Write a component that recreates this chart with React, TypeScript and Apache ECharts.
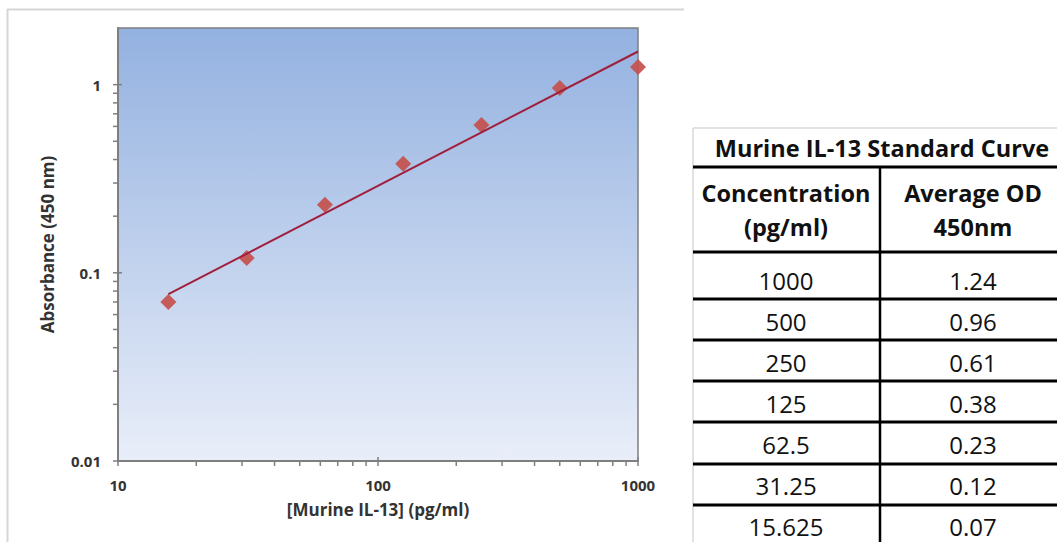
import React, { useEffect, useRef } from "react";
import * as echarts from "echarts";

// ---- data ----
const concentrations = [1000, 500, 250, 125, 62.5, 31.25, 15.625];
const averageOD = [1.24, 0.96, 0.61, 0.38, 0.23, 0.12, 0.07];
// power-law trendline end points (as drawn)
const trendLine = [
  [15.625, 0.077],
  [1000, 1.5],
];
const xMajorTicks = [10, 100, 1000];
const yMajorTicks = [0.01, 0.1, 1];
const xMinorTicks = [20, 30, 40, 50, 60, 70, 80, 90, 200, 300, 400, 500, 600, 700, 800, 900];
const yMinorTicks = [0.02, 0.03, 0.04, 0.05, 0.06, 0.07, 0.08, 0.09, 0.2, 0.3, 0.4, 0.5, 0.6, 0.7, 0.8, 0.9];
const tableTitle = "Murine IL-13 Standard Curve";
const headerLeft = ["Concentration", "(pg/ml)"];
const headerRight = ["Average OD", "450nm"];

const FONT = "'Open Sans', 'DejaVu Sans', sans-serif";

export default function App() {
  const ref = useRef<HTMLDivElement>(null);

  useEffect(() => {
    if (!ref.current) return;
    const chart = echarts.init(ref.current, undefined, { renderer: "svg" });

    const tickSeries = (values: number[], axis: "x" | "y", major: boolean) => ({
      type: "custom",
      silent: true,
      clip: false,
      z: 5,
      data: values.map((v) => (axis === "x" ? [v, 1] : [100, v])),
      renderItem: (params: any, api: any) => {
        const cs = params.coordSys;
        const pt = api.coord([api.value(0), api.value(1)]);
        const style = { stroke: "#7f7f7f", lineWidth: 1.5 };
        if (axis === "x") {
          const y = cs.y + cs.height;
          return {
            type: "line",
            shape: { x1: pt[0], y1: major ? y - 4 : y, x2: pt[0], y2: y + 5 },
            style,
          };
        }
        const x = cs.x;
        return {
          type: "line",
          shape: { x1: x - 5, y1: pt[1], x2: major ? x + 4 : x, y2: pt[1] },
          style,
        };
      },
    });

    // table graphics
    const tX = 693;
    const tR = 1057;
    const colSplit = 880;
    const leftC = 786;
    const rightC = 973;
    const rowCenters = [280, 321, 362, 403, 444, 485, 526];
    const rowLines = [252, 299, 340, 381, 422, 464, 505];
    const graphics: any[] = [];
    // chart outer border
    graphics.push({ type: "line", shape: { x1: 7, y1: 9.5, x2: 684, y2: 9.5 }, style: { stroke: "#d6d6d6", lineWidth: 2 } });
    graphics.push({ type: "line", shape: { x1: 7.5, y1: 9, x2: 7.5, y2: 542 }, style: { stroke: "#d6d6d6", lineWidth: 2 } });
    // table borders
    graphics.push({ type: "line", shape: { x1: tX, y1: 128, x2: tR, y2: 128 }, style: { stroke: "#d9d9d9", lineWidth: 1.5 } });
    graphics.push({ type: "line", shape: { x1: tX, y1: 128, x2: tX, y2: 542 }, style: { stroke: "#d9d9d9", lineWidth: 1.5 } });
    graphics.push({ type: "line", shape: { x1: tX, y1: 167, x2: tR, y2: 167 }, style: { stroke: "#000", lineWidth: 3 } });
    rowLines.forEach((y) =>
      graphics.push({ type: "line", shape: { x1: tX, y1: y, x2: tR, y2: y }, style: { stroke: "#000", lineWidth: 3 } })
    );
    graphics.push({ type: "line", shape: { x1: colSplit, y1: 167, x2: colSplit, y2: 542 }, style: { stroke: "#000", lineWidth: 2.5 } });
    const txt = (text: string, x: number, y: number, bold: boolean, size: number) => ({
      type: "text",
      x,
      y,
      style: {
        text,
        fill: "#111",
        font: `${bold ? "bold " : ""}${size}px ${FONT}`,
        align: "center",
        verticalAlign: "middle",
      },
    });
    graphics.push(txt(tableTitle, 882, 148, true, 23.5));
    graphics.push(txt(headerLeft[0], leftC, 193, true, 23.5));
    graphics.push(txt(headerLeft[1], leftC, 227, true, 23.5));
    graphics.push(txt(headerRight[0], rightC, 193, true, 23.5));
    graphics.push(txt(headerRight[1], rightC, 227, true, 23.5));
    concentrations.forEach((c, i) => {
      graphics.push(txt(String(c), leftC, rowCenters[i], false, 24));
      graphics.push(txt(averageOD[i].toFixed(2), rightC, rowCenters[i], false, 24));
    });

    const labelStyle = { fontWeight: "bold", fontSize: 15, color: "#333", fontFamily: FONT };
    const nameStyle = { fontWeight: "bold", fontSize: 17, color: "#333", fontFamily: FONT };

    chart.setOption({
      animation: false,
      textStyle: { fontFamily: FONT },
      grid: {
        left: 118,
        right: 419,
        top: 28,
        bottom: 81,
        show: true,
        borderColor: "#7f7f7f",
        borderWidth: 1.5,
        backgroundColor: new echarts.graphic.LinearGradient(0, 0, 0, 1, [
          { offset: 0, color: "#93b1e0" },
          { offset: 1, color: "#e9eef9" },
        ]),
      },
      xAxis: {
        type: "log",
        logBase: 10,
        min: 10,
        max: 1000,
        name: "[Murine IL-13] (pg/ml)",
        nameLocation: "middle",
        nameGap: 40,
        nameTextStyle: nameStyle,
        axisLine: { show: true, lineStyle: { color: "#7f7f7f", width: 2 } },
        axisTick: { show: false },
        splitLine: { show: false },
        minorTick: { show: false },
        axisLabel: {
          margin: 16,
          ...labelStyle,
          formatter: (v: number) => (xMajorTicks.some((t) => Math.abs(t - v) < 1e-6) ? String(v) : ""),
        },
      },
      yAxis: {
        type: "log",
        logBase: 10,
        min: 0.01,
        max: 2,
        name: "Absorbance (450 nm)",
        nameLocation: "middle",
        nameRotate: 90,
        nameGap: 62,
        nameTextStyle: nameStyle,
        axisLine: { show: true, lineStyle: { color: "#7f7f7f", width: 2 } },
        axisTick: { show: false },
        splitLine: { show: false },
        minorTick: { show: false },
        axisLabel: {
          margin: 17,
          ...labelStyle,
          showMaxLabel: false,
          formatter: (v: number) => (yMajorTicks.some((t) => Math.abs(t - v) / t < 1e-6) ? String(v) : ""),
        },
      },
      series: [
        {
          type: "scatter",
          data: concentrations.map((c, i) => [c, averageOD[i]]),
          symbol: "diamond",
          symbolSize: 16,
          itemStyle: { color: "#c4504d", opacity: 0.92 },
          z: 3,
          clip: false,
        },
        {
          type: "line",
          data: trendLine,
          showSymbol: false,
          lineStyle: { color: "#a01f3d", width: 2 },
          z: 4,
        },
        tickSeries(xMinorTicks, "x", false),
        tickSeries(yMinorTicks, "y", false),
        tickSeries(xMajorTicks, "x", true),
        tickSeries(yMajorTicks, "y", true),
      ],
      graphic: graphics,
    });

    return () => chart.dispose();
  }, []);

  return (
    <div
      ref={ref}
      style={{ position: "fixed", left: 0, top: 0, width: 1057, height: 542, background: "#fff" }}
    />
  );
}
